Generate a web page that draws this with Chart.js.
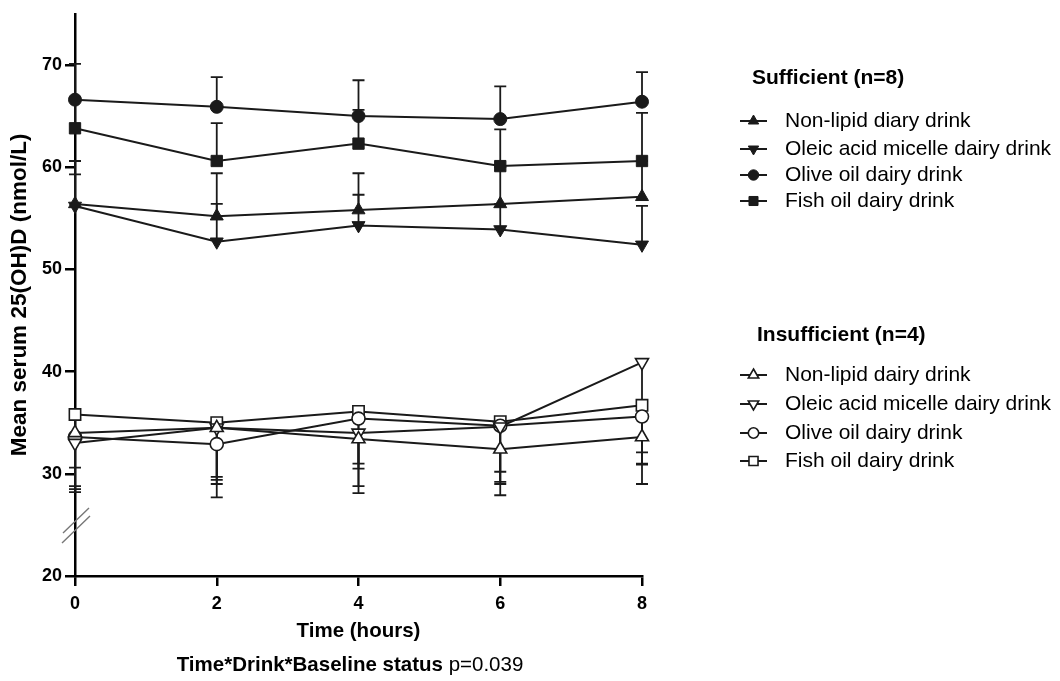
<!DOCTYPE html>
<html>
<head>
<meta charset="utf-8">
<script src="https://cdn.jsdelivr.net/npm/chart.js@4.4.0/dist/chart.umd.min.js"></script>
<style>
  html, body { margin: 0; padding: 0; background: #fff; }
</style>
</head>
<body>
<canvas id="myChart" width="1060" height="681"></canvas>
<script>
var hours = [0, 2, 4, 6, 8];
var yTicks = [20, 30, 40, 50, 60, 70];

// Sufficient (n=8) - error bars drawn upwards
var sufNonLipid = [56.4, 55.2, 55.8, 56.4, 57.1];
var sufNonLipidErr = [4.2, 4.2, 3.6, 3.6, 3.5];
var sufOleic = [56.2, 52.7, 54.3, 53.9, 52.4];
var sufOleicErr = [3.1, 3.7, 3.0, 2.5, 3.8];
var sufOlive = [66.6, 65.9, 65.0, 64.7, 66.4];
var sufOliveErr = [3.5, 2.9, 3.5, 3.2, 2.9];
var sufFish = [63.8, 60.6, 62.3, 60.1, 60.6];
var sufFishErr = [2.8, 3.7, 3.3, 3.6, 4.7];

// Insufficient (n=4) - error bars drawn downwards
var insNonLipid = [34.0, 34.5, 33.4, 32.4, 33.6];
var insNonLipidErr = [5.5, 5.1, 4.6, 4.5, 1.5];
var insOleic = [33.0, 34.5, 34.0, 34.6, 40.9];
var insOleicErr = [4.8, 5.5, 5.9, 5.6, 11.9];
var insOlive = [33.6, 32.9, 35.4, 34.7, 35.6];
var insOliveErr = [4.8, 5.2, 4.9, 5.5, 4.7];
var insFish = [35.8, 35.0, 36.1, 35.1, 36.7];
var insFishErr = [5.2, 5.3, 5.1, 4.9, 5.7];

Chart.defaults.font.family = '"Liberation Sans", Arial, Helvetica, sans-serif';
Chart.defaults.color = '#000';

var ink = '#1a1a1a';

function points(vals) {
    return hours.map(function (h, i) { return { x: h, y: vals[i] }; });
}

function series(label, group, vals, err, style, rot, filled, r) {
    return {
        label: label,
        group: group,
        err: err,
        errDir: group === 'suf' ? 1 : -1,
        data: points(vals),
        borderColor: ink,
        borderWidth: 2,
        backgroundColor: filled ? ink : '#fff',
        pointStyle: style,
        rotation: rot,
        pointRadius: r,
        pointHoverRadius: r,
        pointBorderWidth: filled ? 1 : 1.6,
        tension: 0,
        fill: false,
        clip: false
    };
}

var datasets = [
    series('Non-lipid diary drink', 'suf', sufNonLipid, sufNonLipidErr, 'triangle', 0, true, 7.5),
    series('Oleic acid micelle dairy drink', 'suf', sufOleic, sufOleicErr, 'triangle', 180, true, 7.5),
    series('Olive oil dairy drink', 'suf', sufOlive, sufOliveErr, 'circle', 0, true, 6.5),
    series('Fish oil dairy drink', 'suf', sufFish, sufFishErr, 'rect', 0, true, 8),
    series('Non-lipid dairy drink', 'ins', insNonLipid, insNonLipidErr, 'triangle', 0, false, 7.5),
    series('Oleic acid micelle dairy drink', 'ins', insOleic, insOleicErr, 'triangle', 180, false, 7.5),
    series('Olive oil dairy drink', 'ins', insOlive, insOliveErr, 'circle', 0, false, 6.5),
    series('Fish oil dairy drink', 'ins', insFish, insFishErr, 'rect', 0, false, 8)
];

// error bars, axis break, legend groups and footnote
var extras = {
    id: 'extras',
    beforeDatasetsDraw: function (chart) {
        var ctx = chart.ctx, x = chart.scales.x, y = chart.scales.y;
        ctx.save();
        ctx.strokeStyle = ink;
        ctx.lineWidth = 1.8;
        chart.data.datasets.forEach(function (ds) {
            ds.data.forEach(function (p, i) {
                var px = x.getPixelForValue(p.x);
                var y0 = y.getPixelForValue(p.y);
                var y1 = y.getPixelForValue(p.y + ds.errDir * ds.err[i]);
                ctx.beginPath();
                ctx.moveTo(px, y0);
                ctx.lineTo(px, y1);
                ctx.moveTo(px - 6, y1);
                ctx.lineTo(px + 6, y1);
                ctx.stroke();
            });
        });
        ctx.restore();
    },
    afterDraw: function (chart) {
        var ctx = chart.ctx, area = chart.chartArea;
        ctx.save();

        // axis break marks
        var bx = area.left, by = 525;
        ctx.strokeStyle = '#777';
        ctx.lineWidth = 1.4;
        ctx.beginPath();
        ctx.moveTo(bx - 12, by + 8);
        ctx.lineTo(bx + 14, by - 17);
        ctx.moveTo(bx - 13, by + 18);
        ctx.lineTo(bx + 15, by - 9);
        ctx.stroke();

        // legend
        var groups = [
            { key: 'suf', title: 'Sufficient (n=8)', tx: 752, ty: 78, rows: [121, 149, 175, 201] },
            { key: 'ins', title: 'Insufficient (n=4)', tx: 757, ty: 335, rows: [375, 404, 433, 461] }
        ];
        groups.forEach(function (g) {
            ctx.fillStyle = '#000';
            ctx.textBaseline = 'middle';
            ctx.textAlign = 'left';
            ctx.font = 'bold 21px "Liberation Sans", Arial, sans-serif';
            ctx.fillText(g.title, g.tx, g.ty);
            var items = chart.data.datasets.filter(function (d) { return d.group === g.key; });
            items.forEach(function (d, i) {
                var ly = g.rows[i];
                ctx.strokeStyle = ink;
                ctx.lineWidth = 2;
                ctx.beginPath();
                ctx.moveTo(740, ly);
                ctx.lineTo(767, ly);
                ctx.stroke();
                ctx.fillStyle = d.backgroundColor;
                ctx.lineWidth = d.pointBorderWidth;
                Chart.helpers.drawPoint(ctx, {
                    pointStyle: d.pointStyle,
                    rotation: d.rotation,
                    radius: d.pointRadius * 0.8,
                    borderWidth: d.pointBorderWidth
                }, 753.5, ly);
                ctx.fillStyle = '#000';
                ctx.font = '21px "Liberation Sans", Arial, sans-serif';
                ctx.fillText(d.label, 785, ly);
            });
        });

        // footnote
        var boldPart = 'Time*Drink*Baseline status';
        var plainPart = ' p=0.039';
        ctx.font = 'bold 20.5px "Liberation Sans", Arial, sans-serif';
        var w1 = ctx.measureText(boldPart).width;
        ctx.font = '20.5px "Liberation Sans", Arial, sans-serif';
        var w2 = ctx.measureText(plainPart).width;
        var fx = 350 - (w1 + w2) / 2;
        ctx.fillStyle = '#000';
        ctx.textBaseline = 'middle';
        ctx.textAlign = 'left';
        ctx.font = 'bold 20.5px "Liberation Sans", Arial, sans-serif';
        ctx.fillText(boldPart, fx, 665);
        ctx.font = '20.5px "Liberation Sans", Arial, sans-serif';
        ctx.fillText(plainPart, fx + w1, 665);

        ctx.restore();
    }
};

var ctx = document.getElementById('myChart').getContext('2d');
var myChart = new Chart(ctx, {
    type: 'line',
    data: { datasets: datasets },
    plugins: [extras],
    options: {
        responsive: false,
        animation: false,
        devicePixelRatio: 1,
        layout: { padding: { top: 12, right: 418, bottom: 0, left: 0 } },
        plugins: {
            legend: { display: false },
            tooltip: { enabled: false }
        },
        scales: {
            x: {
                type: 'linear',
                min: 0,
                max: 8,
                afterFit: function (s) { s.height = 105; },
                ticks: { stepSize: 2, font: { size: 18, weight: 'bold' }, color: '#000', padding: 7 },
                grid: { drawOnChartArea: false, color: '#000', lineWidth: 2.5, tickLength: 10 },
                border: { display: true, color: '#000', width: 2.5 },
                title: {
                    display: true,
                    text: 'Time (hours)',
                    font: { size: 20.5, weight: 'bold' },
                    color: '#000',
                    padding: { top: 0, bottom: 37 }
                }
            },
            y: {
                type: 'linear',
                min: 20,
                max: 75,
                afterFit: function (s) { s.width = 75; },
                afterBuildTicks: function (s) {
                    s.ticks = yTicks.map(function (v) { return { value: v }; });
                },
                ticks: { font: { size: 18, weight: 'bold' }, color: '#000', padding: 3 },
                grid: { drawOnChartArea: false, color: '#000', lineWidth: 2.5, tickLength: 10 },
                border: { display: true, color: '#000', width: 2.5 },
                title: {
                    display: true,
                    text: 'Mean serum 25(OH)D (nmol/L)',
                    font: { size: 22.5, weight: 'bold' },
                    color: '#000',
                    padding: { top: 6, bottom: 0 }
                }
            }
        }
    }
});
</script>
</body>
</html>
